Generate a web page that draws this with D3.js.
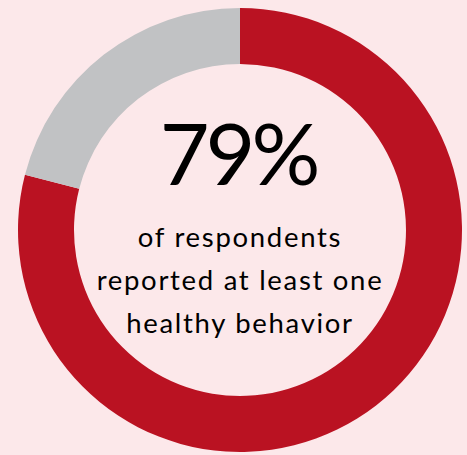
<!DOCTYPE html>
<html>
<head>
<meta charset="utf-8">
<script src="https://cdn.jsdelivr.net/npm/d3@7"></script>
<style>
  html, body { margin: 0; padding: 0; background: #fce8ea; }
  svg { display: block; }
</style>
</head>
<body>
<svg id="chart" width="467" height="455"></svg>
<script>
// Share of respondents reporting at least one healthy behavior
const categories = ["At least one healthy behavior", "None"];
const values = [79, 21];
const colors = ["#ba1222", "#c1c2c4"];
const headline = "79%";
const captionLines = ["of respondents", "reported at least one", "healthy behavior"];

const svg = d3.select("#chart");
const cx = 240, cy = 230;
const outerR = 222, innerR = 166;

const pie = d3.pie().sort(null).value(d => d.value);
const arc = d3.arc().innerRadius(innerR).outerRadius(outerR);

const data = categories.map((c, i) => ({ category: c, value: values[i] }));

const g = svg.append("g").attr("transform", `translate(${cx},${cy})`);

g.selectAll("path")
  .data(pie(data))
  .join("path")
  .attr("d", arc)
  .attr("fill", (d, i) => colors[i]);

g.append("text")
  .attr("x", -2)
  .attr("y", 185 - cy)
  .attr("text-anchor", "middle")
  .attr("font-family", "Lato, sans-serif")
  .attr("font-weight", 400)
  .attr("font-size", 86)
  .attr("letter-spacing", -4)
  .attr("fill", "#000")
  .text(headline);

g.selectAll("text.caption")
  .data(captionLines)
  .join("text")
  .attr("class", "caption")
  .attr("x", 0)
  .attr("y", (d, i) => 247 - cy + i * 43)
  .attr("text-anchor", "middle")
  .attr("font-family", "Lato, sans-serif")
  .attr("font-weight", 400)
  .attr("font-size", 27.5)
  .attr("letter-spacing", 1.7)
  .attr("fill", "#000")
  .text(d => d);
</script>
</body>
</html>
